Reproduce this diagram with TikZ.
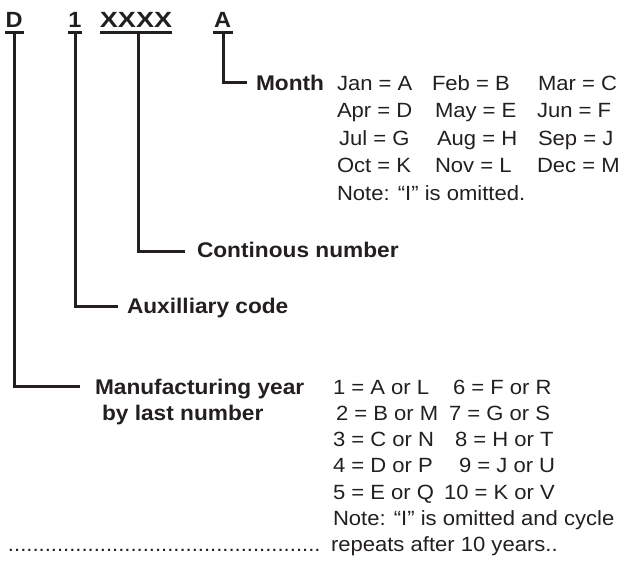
\documentclass[tikz,border=0pt]{standalone}
\usepackage{fontspec}
\setmainfont{Liberation Sans}[FakeStretch=1.07]
\usepackage{graphicx}
\definecolor{ink}{HTML}{231F20}
\begin{document}
\begin{tikzpicture}[x=1pt,y=-1pt,
  every node/.style={inner sep=0pt, outer sep=0pt, text=ink, font=\fontsize{20.6}{24}\selectfont},
  hdr/.style={font=\fontsize{22}{24}\selectfont\bfseries, anchor=base},
  lbl/.style={font=\fontsize{21.2}{24}\selectfont\bfseries, anchor=base west},
  val/.style={anchor=base west},
  stem/.style={draw=ink, line width=3pt},
  uline/.style={draw=ink, line width=2.3pt}]
\path[use as bounding box] (0,0) rectangle (626,560);

% header code
\node[hdr] (hD) at (14,27) {D};
\node[hdr] (h1) at (75,27) {1};
\node[hdr] (hX) at (136,27) {\scalebox{1.15}[1]{XXXX}};
\node[hdr] (hA) at (222.5,27) {A};
\draw[uline] (5,32.5) -- (24,32.5);
\draw[uline] (68,32.5) -- (82,32.5);
\draw[uline] (100,32.5) -- (172,32.5);
\draw[uline] (213,32.5) -- (233,32.5);

% stem start and end points
\coordinate (tD) at (14.5,32);
\coordinate (t1) at (75,32);
\coordinate (tX) at (138,32);
\coordinate (tA) at (223,32);
\coordinate (eM) at (247,82.3);
\coordinate (eC) at (185,251);
\coordinate (eAu) at (118,306);
\coordinate (eY) at (80,386.7);
\draw[stem] (tA) |- (eM);
\draw[stem] (tX) |- (eC);
\draw[stem] (t1) |- (eAu);
\draw[stem] (tD) |- (eY);

% labels
\node[lbl] (month) at (256,90) {Month};
\node[lbl] (cont) at (197,257.5) {Continous number};
\node[lbl] (aux) at (127,313.3) {Auxilliary code};
\node[lbl] (year) at (95,394) {Manufacturing year};
\node[lbl] (year2) at (102,420.3) {by last number};

% month table
\node[val] (m1) at (337,90) {Jan = A};
\node[val] (m2) at (432,90) {Feb = B};
\node[val] (m3) at (538,90) {Mar = C};
\node[val] (m4) at (337,117.5) {Apr = D};
\node[val] (m5) at (435,117.5) {May = E};
\node[val] (m6) at (537,117.5) {Jun = F};
\node[val] (m7) at (339,145) {Jul = G};
\node[val] (m8) at (437,145) {Aug = H};
\node[val] (m9) at (538,145) {Sep = J};
\node[val] (m10) at (337,172.5) {Oct = K};
\node[val] (m11) at (435,172.5) {Nov = L};
\node[val] (m12) at (537,172.5) {Dec = M};
\node[val] (mnote) at (337,200) {Note: “I” is omitted.};

% year table
\node[val] (y1) at (333,394) {1 = A or L};
\node[val] (y6) at (453,394) {6 = F or R};
\node[val] (y2) at (336,420.3) {2 = B or M};
\node[val] (y7) at (449,420.3) {7 = G or S};
\node[val] (y3) at (333,446.6) {3 = C or N};
\node[val] (y8) at (455,446.6) {8 = H or T};
\node[val] (y4) at (333,472.9) {4 = D or P};
\node[val] (y9) at (459,472.9) {9 = J or U};
\node[val] (y5) at (333,499.2) {5 = E or Q};
\node[val] (y10) at (444,499.2) {10 = K or V};
\node[val] (ynote) at (333,525.5) {Note: “I” is omitted and cycle};
\node[val] (yrep) at (331,551.8) {repeats after 10 years..};
\node[val] (dots) at (8,551.8) {...................................................};
\end{tikzpicture}
\end{document}
